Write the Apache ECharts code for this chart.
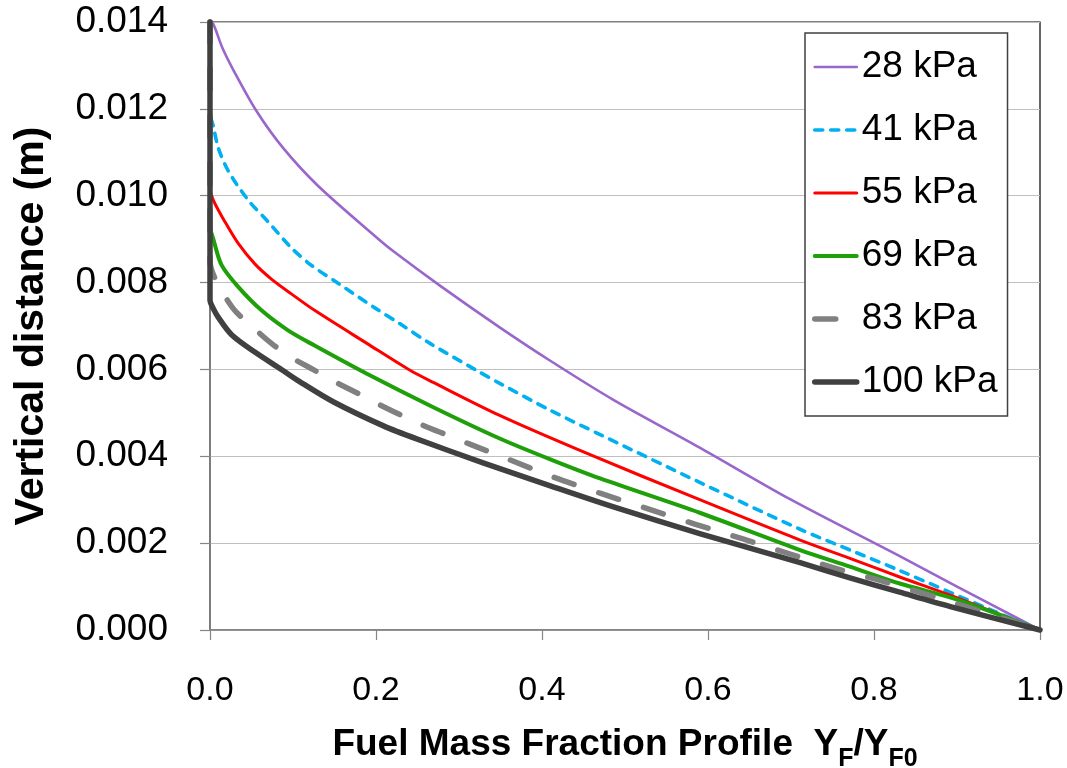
<!DOCTYPE html>
<html>
<head>
<meta charset="utf-8">
<script src="https://cdn.jsdelivr.net/npm/echarts@6/dist/echarts.min.js"></script>
<style>
html,body{margin:0;padding:0;background:#fff;}
#chart{width:1067px;height:768px;}
</style>
</head>
<body>
<div id="chart"></div>
<script>
// Series names
const seriesNames = ['28 kPa', '41 kPa', '55 kPa', '69 kPa', '83 kPa', '100 kPa'];

// [Y_F/Y_F0, vertical distance (m)]
const p28 = [[0,0.014],[0.004,0.01395],[0.015,0.0134],[0.028,0.0129],[0.056,0.01195],[0.088,0.0111],[0.13,0.01023],[0.2,0.00905],[0.221,0.00872],[0.277,0.00793],[0.349,0.00697],[0.41,0.0062],[0.486,0.0053],[0.59,0.0042],[0.7,0.0030],[0.831,0.0017],[0.9,0.0010],[1,0]];
const p41 = [[0,0.014],[0,0.0119],[0.004,0.0116],[0.01,0.0111],[0.022,0.01057],[0.046,0.0099],[0.07,0.0094],[0.098,0.0088],[0.122,0.0084],[0.153,0.0080],[0.2,0.0074],[0.229,0.00705],[0.265,0.0066],[0.321,0.00598],[0.349,0.00568],[0.41,0.00506],[0.47,0.0045],[0.59,0.0034],[0.711,0.00232],[0.779,0.00178],[0.831,0.00137],[0.94,0.00047],[1,0]];
const p55 = [[0,0.014],[0,0.0102],[0.004,0.0099],[0.018,0.0094],[0.034,0.0089],[0.054,0.00843],[0.074,0.00808],[0.098,0.00774],[0.126,0.00736],[0.189,0.0066],[0.241,0.00598],[0.269,0.00570],[0.349,0.00494],[0.45,0.0041],[0.59,0.0030],[0.711,0.00207],[0.771,0.00165],[0.831,0.00122],[0.892,0.0008],[0.95,0.00037],[1,0]];
const p69 = [[0,0.014],[0,0.0093],[0.004,0.0090],[0.014,0.0084],[0.034,0.0079],[0.062,0.00736],[0.094,0.0069],[0.126,0.00655],[0.189,0.0059],[0.269,0.00513],[0.349,0.00441],[0.41,0.00393],[0.47,0.00349],[0.59,0.0027],[0.711,0.00184],[0.771,0.00146],[0.831,0.00107],[0.9,0.0007],[1,0]];
const p83 = [[0,0.014],[0,0.0085],[0.006,0.0081],[0.028,0.0074],[0.05,0.0070],[0.074,0.0066],[0.096,0.0063],[0.124,0.0060],[0.149,0.00573],[0.179,0.00544],[0.203,0.0052],[0.231,0.00494],[0.257,0.00471],[0.287,0.00448],[0.313,0.00428],[0.357,0.00395],[0.414,0.00352],[0.47,0.00315],[0.526,0.0028],[0.584,0.00244],[0.643,0.00209],[0.699,0.00175],[0.757,0.0014],[0.813,0.00111],[0.9,0.0006],[1,0]];
const p100 = [[0,0.014],[0,0.0076],[0.004,0.0074],[0.01,0.0072],[0.026,0.0068],[0.054,0.0064],[0.086,0.0060],[0.108,0.00572],[0.149,0.00525],[0.209,0.0047],[0.249,0.0044],[0.329,0.00385],[0.41,0.00332],[0.49,0.00281],[0.59,0.00222],[0.711,0.00155],[0.771,0.0012],[0.831,0.00087],[0.892,0.00054],[1,0]];

// Axis settings
const xTicks = { min: 0, max: 1, interval: 0.2 };
const yTicks = { min: 0, max: 0.014, interval: 0.002 };

const seriesData = [p28, p41, p55, p69, p83, p100];
const seriesStyles = [
  { color: '#9966CC', width: 2.6, type: 'solid', cap: 'butt' },
  { color: '#00B0F0', width: 3.6, type: [8, 8], cap: 'round' },
  { color: '#FF0000', width: 3, type: 'solid', cap: 'butt' },
  { color: '#1FA00A', width: 4, type: 'solid', cap: 'butt' },
  { color: '#808080', width: 5.5, type: [21, 26], cap: 'round' },
  { color: '#404040', width: 5.5, type: 'solid', cap: 'round' }
];

const FONT = '"Liberation Sans", Arial, sans-serif';

const chart = echarts.init(document.getElementById('chart'), null, { renderer: 'canvas' });

chart.setOption({
  animation: false,
  backgroundColor: '#ffffff',
  grid: {
    left: 210, right: 27, top: 22, bottom: 138,
    outerBoundsMode: 'none',
    containLabel: false,
    show: true, borderColor: '#000000', borderWidth: 1.2, backgroundColor: 'transparent'
  },
  legend: {
    orient: 'vertical',
    left: 805, top: 33,
    padding: [14, 10, 14, 7],
    itemGap: 23,
    itemWidth: 42,
    itemHeight: 20,
    backgroundColor: '#ffffff',
    borderColor: '#404040',
    borderWidth: 1.5,
    borderRadius: 0,
    itemStyle: { opacity: 0 },
    lineStyle: { width: 'inherit', type: 'inherit', cap: 'round' },
    textStyle: { fontFamily: FONT, fontSize: 37, color: '#000', lineHeight: 40 },
    data: seriesNames
  },
  xAxis: {
    type: 'value',
    min: xTicks.min, max: xTicks.max, interval: xTicks.interval,
    name: 'Fuel Mass Fraction Profile  Y{s|F}/Y{s|F0}',
    nameLocation: 'middle',
    nameGap: 88,
    nameTextStyle: {
      fontFamily: FONT, fontSize: 37, fontWeight: 'bold', color: '#000', lineHeight: 54,
      rich: { s: { fontFamily: FONT, fontSize: 25, fontWeight: 'bold', color: '#000', lineHeight: 26, verticalAlign: 'bottom' } }
    },
    axisLine: { show: true, onZero: false, lineStyle: { color: '#868686', width: 1.5 } },
    axisTick: { show: true, inside: false, length: 10, lineStyle: { color: '#868686', width: 1.2 } },
    axisLabel: { fontFamily: FONT, fontSize: 34, color: '#000', margin: 44, formatter: v => v.toFixed(1) },
    splitLine: { show: false }
  },
  yAxis: {
    type: 'value',
    min: yTicks.min, max: yTicks.max, interval: yTicks.interval,
    name: 'Vertical distance (m)',
    nameLocation: 'middle',
    nameGap: 158,
    nameTextStyle: { fontFamily: FONT, fontSize: 41, fontWeight: 'bold', color: '#000' },
    axisLine: { show: true, onZero: false, lineStyle: { color: '#868686', width: 1.5 } },
    axisTick: { show: true, inside: false, length: 10, lineStyle: { color: '#868686', width: 1.2 } },
    axisLabel: { fontFamily: FONT, fontSize: 37, color: '#000', margin: 42, formatter: v => v.toFixed(3) },
    splitLine: { show: true, lineStyle: { color: '#BFBFBF', width: 1.2 } }
  },
  series: seriesData.map((d, i) => ({
    name: seriesNames[i],
    type: 'line',
    data: d,
    showSymbol: false,
    symbol: 'none',
    clip: false,
    smooth: 0.3,
    color: seriesStyles[i].color,
    lineStyle: {
      color: seriesStyles[i].color,
      width: seriesStyles[i].width,
      type: seriesStyles[i].type,
      cap: seriesStyles[i].cap,
      join: 'round'
    },
    z: 2 + i
  }))
});
</script>
</body>
</html>
